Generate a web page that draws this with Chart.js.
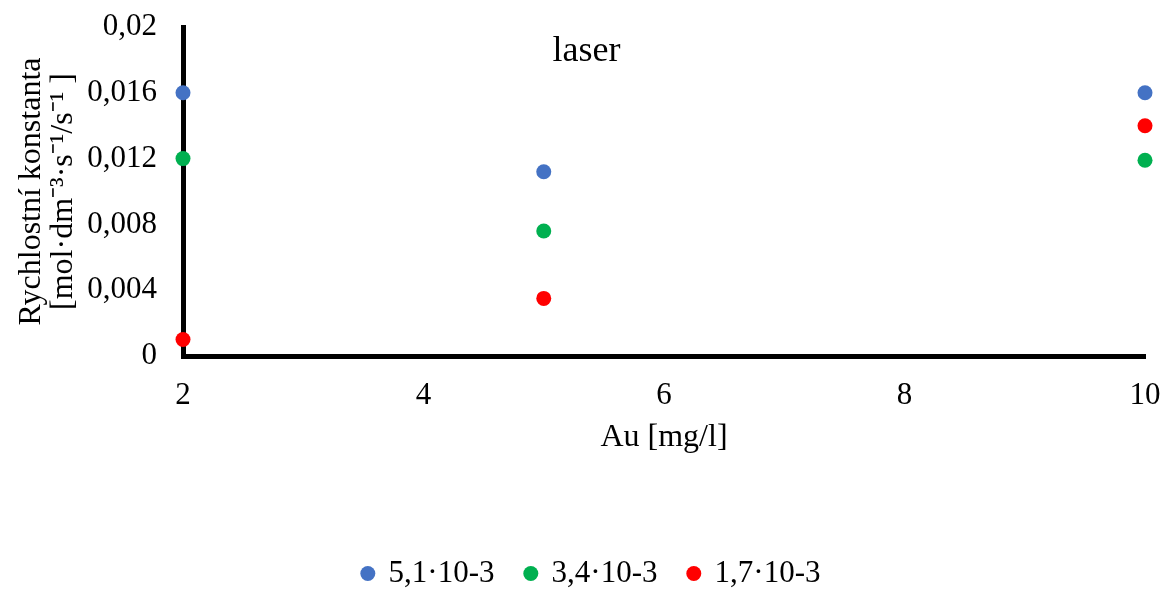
<!DOCTYPE html>
<html>
<head>
<meta charset="utf-8">
<script src="https://cdn.jsdelivr.net/npm/chart.js@4.4.0/dist/chart.umd.min.js"></script>
<style>
  html, body { margin: 0; padding: 0; background: #ffffff; }
  #wrap { width: 1167px; height: 589px; }
</style>
</head>
<body>
<div id="wrap"><canvas id="c" width="1167" height="589"></canvas></div>
<script>
// Au concentration [mg/l]
const auValues = [2, 5, 10];
// Rate constants for each initial concentration series
const k51 = [0.016, 0.0112, 0.016];
const k34 = [0.012, 0.0076, 0.0119];
const k17 = [0.001, 0.0035, 0.014];
const seriesNames = ['5,1\u00b710-3', '3,4\u00b710-3', '1,7\u00b710-3'];
const seriesColors = ['#4472C4', '#00B050', '#FF0000'];
const yTickLabels = ['0', '0,004', '0,008', '0,012', '0,016', '0,02'];
const xTickLabels = ['2', '4', '6', '8', '10'];
const chartTitle = 'laser';

const FONT = '"Liberation Serif", "Times New Roman", serif';

const toPoints = (ys) => auValues.map((x, i) => ({ x: x, y: ys[i] }));

// Title drawn inside the plot area
const inPlotTitle = {
  id: 'inPlotTitle',
  afterDraw(chart) {
    const { ctx, chartArea } = chart;
    ctx.save();
    ctx.font = '36px ' + FONT;
    ctx.fillStyle = '#000';
    ctx.textAlign = 'center';
    ctx.textBaseline = 'middle';
    ctx.fillText(chartTitle, chartArea.left + chartArea.width * 0.4195, chartArea.top + 25);
    ctx.restore();
  }
};

// Nudge the legend row slightly to the right of the canvas centre
const legendOffset = {
  id: 'legendOffset',
  afterLayout(chart) {
    if (chart.legend) chart.legend.left += 30;
  }
};

new Chart(document.getElementById('c'), {
  type: 'scatter',
  data: {
    datasets: [k51, k34, k17].map((ys, i) => ({
      label: seriesNames[i],
      data: toPoints(ys),
      backgroundColor: seriesColors[i],
      borderColor: seriesColors[i],
      pointRadius: 7.5,
      pointHoverRadius: 7.5,
      borderWidth: 0,
      clip: false
    }))
  },
  options: {
    responsive: false,
    animation: false,
    events: [],
    layout: { padding: { left: 8, right: 22, top: 27, bottom: -10 } },
    plugins: {
      tooltip: { enabled: false },
      legend: {
        position: 'bottom',
        labels: {
          usePointStyle: true,
          pointStyle: 'circle',
          boxWidth: 10.6,
          boxHeight: 10.6,
          padding: 31,
          color: '#000',
          font: { family: FONT, size: 31 }
        }
      }
    },
    scales: {
      x: {
        type: 'linear',
        min: 2,
        max: 10,
        afterFit(scale) {
          scale.height = 171;
          scale.paddingLeft = 0;
          scale.paddingRight = 0;
        },
        ticks: {
          stepSize: 2,
          padding: 21,
          color: '#000',
          font: { family: FONT, size: 31 },
          callback: (v, i) => xTickLabels[i]
        },
        grid: { display: false, drawTicks: false },
        border: { display: true, color: '#000', width: 5 },
        title: {
          display: true,
          text: 'Au [mg/l]',
          color: '#000',
          font: { family: FONT, size: 32 },
          padding: { top: 0, bottom: 70 }
        }
      },
      y: {
        type: 'linear',
        min: 0,
        max: 0.02,
        afterFit(scale) {
          scale.width = 175;
          scale.paddingTop = 0;
          scale.paddingBottom = 0;
        },
        ticks: {
          stepSize: 0.004,
          padding: 26,
          color: '#000',
          font: { family: FONT, size: 31 },
          callback: (v, i) => yTickLabels[i]
        },
        grid: { display: false, drawTicks: false },
        border: { display: true, color: '#000', width: 5 },
        title: {
          display: true,
          text: ['Rychlostn\u00ed konstanta', '[mol\u00b7dm\u207b\u00b3\u00b7s\u207b\u00b9/s\u207b\u00b9 ]'],
          color: '#000',
          font: { family: FONT, size: 32, lineHeight: 1.0 },
          padding: { top: 8, bottom: 0 }
        }
      }
    }
  },
  plugins: [inPlotTitle, legendOffset]
});
</script>
</body>
</html>
